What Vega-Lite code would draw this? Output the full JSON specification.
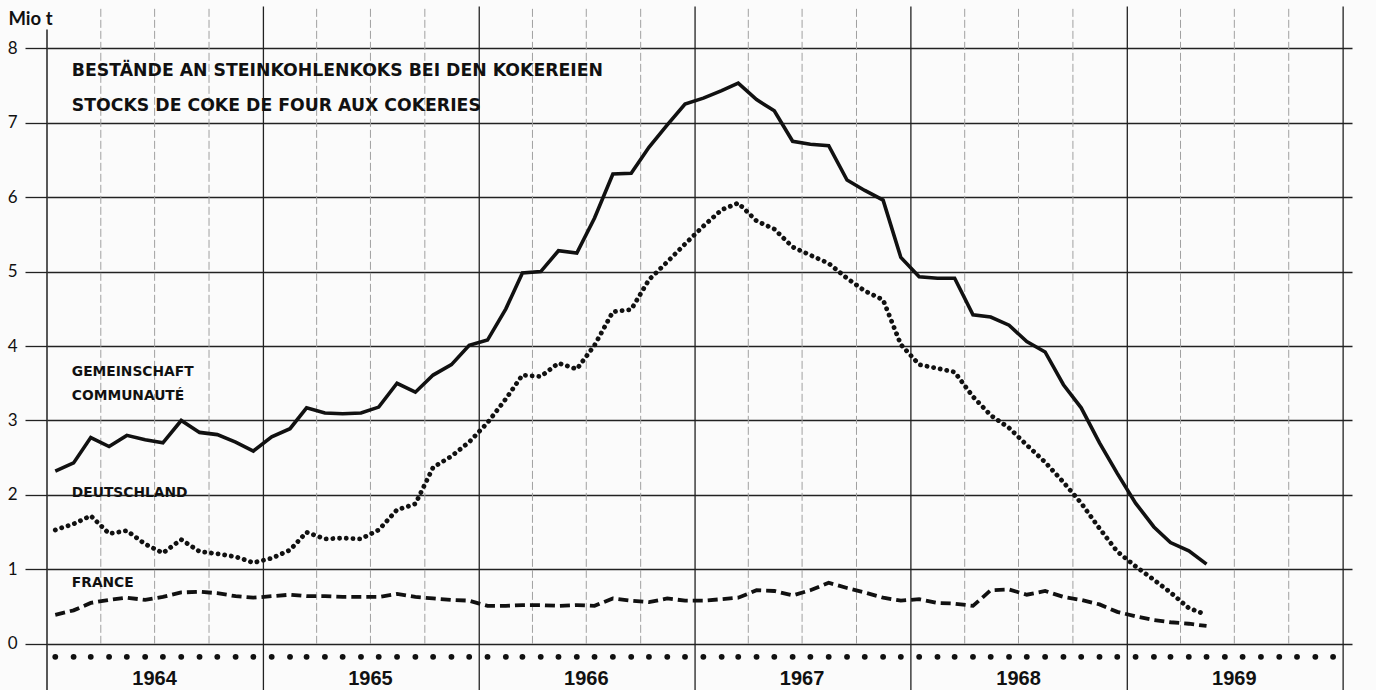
{
  "$schema": "https://vega.github.io/schema/vega-lite/v6.json",
  "width": 1305,
  "height": 679,
  "autosize": "none",
  "padding": {"left": 47, "top": 11, "right": 24, "bottom": 0},
  "background": "#fbfbfb",
  "config": {"view": {"stroke": null}, "font": "Lato"},
  "datasets": {
    "stocks": [
      {"month": "1964-01-15", "G": 2.32, "D": 1.53, "F": 0.39},
      {"month": "1964-02-15", "G": 2.43, "D": 1.61, "F": 0.45},
      {"month": "1964-03-15", "G": 2.77, "D": 1.72, "F": 0.55},
      {"month": "1964-04-15", "G": 2.65, "D": 1.48, "F": 0.59},
      {"month": "1964-05-15", "G": 2.80, "D": 1.52, "F": 0.62},
      {"month": "1964-06-15", "G": 2.74, "D": 1.34, "F": 0.59},
      {"month": "1964-07-15", "G": 2.70, "D": 1.22, "F": 0.63},
      {"month": "1964-08-15", "G": 3.00, "D": 1.40, "F": 0.69},
      {"month": "1964-09-15", "G": 2.84, "D": 1.24, "F": 0.70},
      {"month": "1964-10-15", "G": 2.81, "D": 1.21, "F": 0.68},
      {"month": "1964-11-15", "G": 2.71, "D": 1.17, "F": 0.64},
      {"month": "1964-12-15", "G": 2.59, "D": 1.09, "F": 0.62},
      {"month": "1965-01-15", "G": 2.78, "D": 1.15, "F": 0.64},
      {"month": "1965-02-15", "G": 2.89, "D": 1.26, "F": 0.66},
      {"month": "1965-03-15", "G": 3.17, "D": 1.50, "F": 0.64},
      {"month": "1965-04-15", "G": 3.10, "D": 1.41, "F": 0.64},
      {"month": "1965-05-15", "G": 3.09, "D": 1.42, "F": 0.63},
      {"month": "1965-06-15", "G": 3.10, "D": 1.41, "F": 0.63},
      {"month": "1965-07-15", "G": 3.18, "D": 1.53, "F": 0.63},
      {"month": "1965-08-15", "G": 3.50, "D": 1.80, "F": 0.67},
      {"month": "1965-09-15", "G": 3.38, "D": 1.88, "F": 0.63},
      {"month": "1965-10-15", "G": 3.61, "D": 2.37, "F": 0.61},
      {"month": "1965-11-15", "G": 3.75, "D": 2.52, "F": 0.59},
      {"month": "1965-12-15", "G": 4.01, "D": 2.71, "F": 0.58},
      {"month": "1966-01-15", "G": 4.08, "D": 2.97, "F": 0.51},
      {"month": "1966-02-15", "G": 4.50, "D": 3.29, "F": 0.51},
      {"month": "1966-03-15", "G": 4.98, "D": 3.61, "F": 0.52},
      {"month": "1966-04-15", "G": 5.00, "D": 3.59, "F": 0.52},
      {"month": "1966-05-15", "G": 5.28, "D": 3.77, "F": 0.51},
      {"month": "1966-06-15", "G": 5.25, "D": 3.69, "F": 0.52},
      {"month": "1966-07-15", "G": 5.72, "D": 4.01, "F": 0.51},
      {"month": "1966-08-15", "G": 6.31, "D": 4.46, "F": 0.61},
      {"month": "1966-09-15", "G": 6.32, "D": 4.49, "F": 0.58},
      {"month": "1966-10-15", "G": 6.67, "D": 4.89, "F": 0.56},
      {"month": "1966-11-15", "G": 6.97, "D": 5.13, "F": 0.61},
      {"month": "1966-12-15", "G": 7.25, "D": 5.37, "F": 0.58},
      {"month": "1967-01-15", "G": 7.33, "D": 5.61, "F": 0.58},
      {"month": "1967-02-15", "G": 7.43, "D": 5.83, "F": 0.60},
      {"month": "1967-03-15", "G": 7.53, "D": 5.92, "F": 0.62},
      {"month": "1967-04-15", "G": 7.31, "D": 5.68, "F": 0.72},
      {"month": "1967-05-15", "G": 7.16, "D": 5.57, "F": 0.71},
      {"month": "1967-06-15", "G": 6.75, "D": 5.33, "F": 0.65},
      {"month": "1967-07-15", "G": 6.71, "D": 5.22, "F": 0.72},
      {"month": "1967-08-15", "G": 6.69, "D": 5.11, "F": 0.82},
      {"month": "1967-09-15", "G": 6.23, "D": 4.91, "F": 0.75},
      {"month": "1967-10-15", "G": 6.09, "D": 4.74, "F": 0.69},
      {"month": "1967-11-15", "G": 5.96, "D": 4.62, "F": 0.62},
      {"month": "1967-12-15", "G": 5.19, "D": 4.02, "F": 0.58},
      {"month": "1968-01-15", "G": 4.93, "D": 3.75, "F": 0.60},
      {"month": "1968-02-15", "G": 4.91, "D": 3.70, "F": 0.55},
      {"month": "1968-03-15", "G": 4.91, "D": 3.65, "F": 0.54},
      {"month": "1968-04-15", "G": 4.42, "D": 3.32, "F": 0.51},
      {"month": "1968-05-15", "G": 4.39, "D": 3.07, "F": 0.72},
      {"month": "1968-06-15", "G": 4.28, "D": 2.90, "F": 0.73},
      {"month": "1968-07-15", "G": 4.06, "D": 2.67, "F": 0.66},
      {"month": "1968-08-15", "G": 3.92, "D": 2.44, "F": 0.71},
      {"month": "1968-09-15", "G": 3.48, "D": 2.17, "F": 0.63},
      {"month": "1968-10-15", "G": 3.17, "D": 1.89, "F": 0.59},
      {"month": "1968-11-15", "G": 2.70, "D": 1.55, "F": 0.53},
      {"month": "1968-12-15", "G": 2.29, "D": 1.24, "F": 0.43},
      {"month": "1969-01-15", "G": 1.89, "D": 1.04, "F": 0.37},
      {"month": "1969-02-15", "G": 1.57, "D": 0.86, "F": 0.32},
      {"month": "1969-03-15", "G": 1.36, "D": 0.69, "F": 0.29},
      {"month": "1969-04-15", "G": 1.25, "D": 0.48, "F": 0.27},
      {"month": "1969-05-15", "G": 1.07, "D": 0.39, "F": 0.24}
    ],
    "monthdots": [
      {"d": "1964-01-15"}, {"d": "1964-02-15"}, {"d": "1964-03-15"}, {"d": "1964-04-15"}, {"d": "1964-05-15"}, {"d": "1964-06-15"},
      {"d": "1964-07-15"}, {"d": "1964-08-15"}, {"d": "1964-09-15"}, {"d": "1964-10-15"}, {"d": "1964-11-15"}, {"d": "1964-12-15"},
      {"d": "1965-01-15"}, {"d": "1965-02-15"}, {"d": "1965-03-15"}, {"d": "1965-04-15"}, {"d": "1965-05-15"}, {"d": "1965-06-15"},
      {"d": "1965-07-15"}, {"d": "1965-08-15"}, {"d": "1965-09-15"}, {"d": "1965-10-15"}, {"d": "1965-11-15"}, {"d": "1965-12-15"},
      {"d": "1966-01-15"}, {"d": "1966-02-15"}, {"d": "1966-03-15"}, {"d": "1966-04-15"}, {"d": "1966-05-15"}, {"d": "1966-06-15"},
      {"d": "1966-07-15"}, {"d": "1966-08-15"}, {"d": "1966-09-15"}, {"d": "1966-10-15"}, {"d": "1966-11-15"}, {"d": "1966-12-15"},
      {"d": "1967-01-15"}, {"d": "1967-02-15"}, {"d": "1967-03-15"}, {"d": "1967-04-15"}, {"d": "1967-05-15"}, {"d": "1967-06-15"},
      {"d": "1967-07-15"}, {"d": "1967-08-15"}, {"d": "1967-09-15"}, {"d": "1967-10-15"}, {"d": "1967-11-15"}, {"d": "1967-12-15"},
      {"d": "1968-01-15"}, {"d": "1968-02-15"}, {"d": "1968-03-15"}, {"d": "1968-04-15"}, {"d": "1968-05-15"}, {"d": "1968-06-15"},
      {"d": "1968-07-15"}, {"d": "1968-08-15"}, {"d": "1968-09-15"}, {"d": "1968-10-15"}, {"d": "1968-11-15"}, {"d": "1968-12-15"},
      {"d": "1969-01-15"}, {"d": "1969-02-15"}, {"d": "1969-03-15"}, {"d": "1969-04-15"}, {"d": "1969-05-15"}, {"d": "1969-06-15"},
      {"d": "1969-07-15"}, {"d": "1969-08-15"}, {"d": "1969-09-15"}, {"d": "1969-10-15"}, {"d": "1969-11-15"}, {"d": "1969-12-15"}
    ],
    "yearlines": [
      {"start": "1965-01-01"}, {"start": "1966-01-01"}, {"start": "1967-01-01"},
      {"start": "1968-01-01"}, {"start": "1969-01-01"}, {"start": "1970-01-01"}
    ],
    "axisline": [
      {"start": "1964-01-01"}
    ],
    "quarterlines": [
      {"q": "1964-04-01"}, {"q": "1964-07-01"}, {"q": "1964-10-01"},
      {"q": "1965-04-01"}, {"q": "1965-07-01"}, {"q": "1965-10-01"},
      {"q": "1966-04-01"}, {"q": "1966-07-01"}, {"q": "1966-10-01"},
      {"q": "1967-04-01"}, {"q": "1967-07-01"}, {"q": "1967-10-01"},
      {"q": "1968-04-01"}, {"q": "1968-07-01"}, {"q": "1968-10-01"},
      {"q": "1969-04-01"}, {"q": "1969-07-01"}, {"q": "1969-10-01"}
    ],
    "yearlabels": [
      {"mid": "1964-07-01", "label": "1964"},
      {"mid": "1965-07-01", "label": "1965"},
      {"mid": "1966-07-01", "label": "1966"},
      {"mid": "1967-07-01", "label": "1967"},
      {"mid": "1968-07-01", "label": "1968"},
      {"mid": "1969-07-01", "label": "1969"}
    ],
    "titles": [
      {"date": "1964-02-12", "value": 7.69, "label": "BESTÄNDE AN STEINKOHLENKOKS BEI DEN KOKEREIEN"},
      {"date": "1964-02-12", "value": 7.22, "label": "STOCKS DE COKE DE FOUR AUX COKERIES"}
    ],
    "serieslabels": [
      {"date": "1964-02-12", "value": 3.65, "label": "GEMEINSCHAFT"},
      {"date": "1964-02-12", "value": 3.33, "label": "COMMUNAUTÉ"},
      {"date": "1964-02-12", "value": 2.03, "label": "DEUTSCHLAND"},
      {"date": "1964-02-12", "value": 0.82, "label": "FRANCE"}
    ]
  },
  "layer": [
    {
      "data": {"name": "yearlines"},
      "mark": {"type": "rule", "color": "#222", "strokeWidth": 1.3},
      "encoding": {
        "x": {
          "field": "start", "type": "temporal",
          "scale": {"type": "utc", "domain": [{"year": 1964, "month": 1, "date": 1, "utc": true}, {"year": 1970, "month": 1, "date": 16, "utc": true}], "nice": false},
          "axis": null
        },
        "y": {
          "datum": -0.62, "type": "quantitative",
          "scale": {"domain": [-0.62, 8.5], "nice": false, "zero": false},
          "axis": {
            "title": "Mio t", "titleAngle": 0, "titleAlign": "left", "titleBaseline": "middle",
            "titleX": -39, "titleY": 7, "titleFont": "Lato", "titleFontSize": 18.5, "titleFontWeight": "bold", "titleColor": "#111",
            "values": [0, 0.5, 1, 1.5, 2, 2.5, 3, 3.5, 4, 4.5, 5, 5.5, 6, 6.5, 7, 7.5, 8, 8.5],
            "labelExpr": "datum.value % 1 === 0 && datum.value <= 8 ? datum.value : ''",
            "labelFont": "Lato", "labelFontSize": 17, "labelColor": "#111", "labelPadding": 8,
            "tickSize": {"condition": {"test": "datum.value % 1 === 0", "value": 22}, "value": 7},
            "tickOpacity": {"condition": {"test": "datum.value > 8.25", "value": 0}, "value": 1},
            "tickColor": "#222", "tickWidth": 1.3,
            "grid": true, "gridColor": "#222", "gridWidth": 1.3,
            "domain": false
          }
        },
        "y2": {"datum": 8.56}
      }
    },
    {
      "data": {"name": "axisline"},
      "mark": {"type": "rule", "color": "#222", "strokeWidth": 1.5},
      "encoding": {
        "x": {"field": "start", "type": "temporal"},
        "y": {"datum": -0.62, "type": "quantitative"},
        "y2": {"datum": 8.25}
      }
    },
    {
      "data": {"name": "quarterlines"},
      "mark": {"type": "rule", "color": "#a0a0a0", "strokeWidth": 1, "strokeDash": [8, 3]},
      "encoding": {
        "x": {"field": "q", "type": "temporal"},
        "y": {"datum": 0, "type": "quantitative"},
        "y2": {"datum": 8.56}
      }
    },
    {
      "mark": {"type": "rect", "fill": "#fbfbfb"},
      "encoding": {
        "x": {"datum": {"year": 1964, "month": 1, "date": 26, "utc": true}, "type": "temporal"},
        "x2": {"datum": {"year": 1966, "month": 9, "date": 18, "utc": true}},
        "y": {"datum": 7.95, "type": "quantitative"},
        "y2": {"datum": 7.03}
      }
    },
    {
      "mark": {"type": "rect", "fill": "#fbfbfb"},
      "encoding": {
        "x": {"datum": {"year": 1964, "month": 1, "date": 23, "utc": true}, "type": "temporal"},
        "x2": {"datum": {"year": 1964, "month": 9, "date": 24, "utc": true}},
        "y": {"datum": 3.83, "type": "quantitative"},
        "y2": {"datum": 3.18}
      }
    },
    {
      "mark": {"type": "rect", "fill": "#fbfbfb"},
      "encoding": {
        "x": {"datum": {"year": 1964, "month": 1, "date": 23, "utc": true}, "type": "temporal"},
        "x2": {"datum": {"year": 1964, "month": 9, "date": 24, "utc": true}},
        "y": {"datum": 2.14, "type": "quantitative"},
        "y2": {"datum": 1.9}
      }
    },
    {
      "data": {"name": "monthdots"},
      "mark": {"type": "point", "filled": true, "color": "#111", "size": 34, "opacity": 1},
      "encoding": {
        "x": {"field": "d", "type": "temporal"},
        "y": {"datum": -0.175, "type": "quantitative"}
      }
    },
    {
      "data": {"name": "yearlabels"},
      "mark": {"type": "text", "font": "Liberation Sans", "fontSize": 20, "fontWeight": "bold", "color": "#111", "align": "center", "baseline": "alphabetic"},
      "encoding": {
        "x": {"field": "mid", "type": "temporal"},
        "y": {"datum": -0.55, "type": "quantitative"},
        "text": {"field": "label"}
      }
    },
    {
      "data": {"name": "titles"},
      "mark": {"type": "text", "font": "DejaVu Sans", "fontSize": 17.3, "fontWeight": "bold", "color": "#111", "align": "left", "baseline": "middle"},
      "encoding": {
        "x": {"field": "date", "type": "temporal"},
        "y": {"field": "value", "type": "quantitative", "title": "Mio t"},
        "text": {"field": "label"}
      }
    },
    {
      "data": {"name": "serieslabels"},
      "mark": {"type": "text", "font": "DejaVu Sans", "fontSize": 13.8, "fontWeight": "bold", "color": "#111", "align": "left", "baseline": "middle"},
      "encoding": {
        "x": {"field": "date", "type": "temporal"},
        "y": {"field": "value", "type": "quantitative", "title": "Mio t"},
        "text": {"field": "label"}
      }
    },
    {
      "data": {"name": "stocks"},
      "mark": {"type": "line", "color": "#111", "strokeWidth": 3.8, "strokeDash": [10, 5], "strokeCap": "butt"},
      "encoding": {
        "x": {"field": "month", "type": "temporal"},
        "y": {"field": "F", "type": "quantitative", "title": "Mio t"}
      }
    },
    {
      "data": {"name": "stocks"},
      "mark": {"type": "line", "color": "#111", "strokeWidth": 4.8, "strokeDash": [0.1, 6.6], "strokeCap": "round"},
      "encoding": {
        "x": {"field": "month", "type": "temporal"},
        "y": {"field": "D", "type": "quantitative", "title": "Mio t"}
      }
    },
    {
      "data": {"name": "stocks"},
      "mark": {"type": "line", "color": "#111", "strokeWidth": 3.6},
      "encoding": {
        "x": {"field": "month", "type": "temporal"},
        "y": {"field": "G", "type": "quantitative", "title": "Mio t"}
      }
    }
  ]
}
